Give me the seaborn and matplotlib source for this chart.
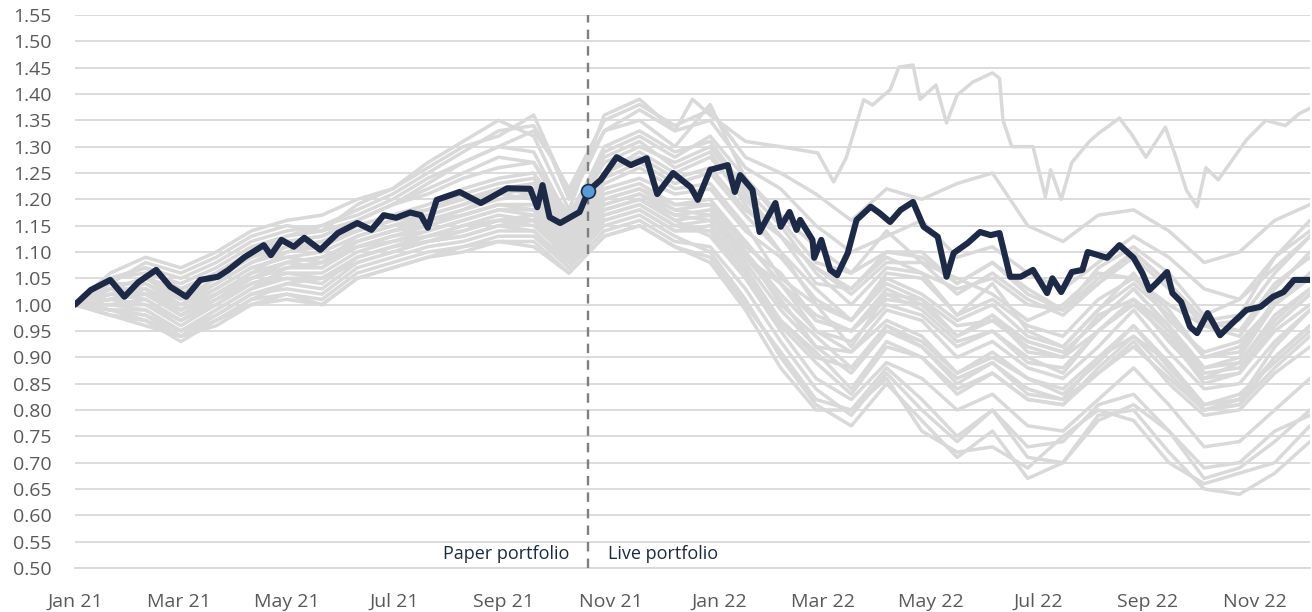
import matplotlib
matplotlib.use('Agg')
import matplotlib.pyplot as plt
import matplotlib.dates as mdates
import seaborn as sns
import pandas as pd

# ---- data ----
start_date = pd.Timestamp('2021-01-01')
live_start_day = 291   # paper -> live switch (about 19 Oct 21)

# main portfolio: day offset from start, value
navy_days = [0, 9, 20, 28, 36, 46, 54, 63, 71, 81, 87, 96, 107, 111, 117, 124, 130, 139, 149, 160,
             168, 175, 182, 190, 196, 200, 205, 218, 230, 245, 258, 262, 265, 269, 275, 286, 291, 298, 307, 315,
             324, 330, 339, 349, 353, 360, 370, 374, 377, 384, 388, 397, 400, 405, 409, 411, 418, 419, 423, 428,
             432, 438, 443, 451, 456, 462, 468, 475, 481, 489, 494, 498, 506, 513, 519, 524, 530, 536, 543, 551,
             554, 559, 565, 571, 574, 585, 592, 600, 605, 609, 613, 619, 622, 627, 632, 636, 642, 649, 656, 664,
             672, 679, 685, 691, 700]
navy_values = [1.000, 1.028, 1.047, 1.015, 1.043, 1.066, 1.034, 1.015, 1.047, 1.053, 1.066, 1.090, 1.113, 1.094, 1.123, 1.110, 1.127, 1.104, 1.136, 1.155,
               1.142, 1.170, 1.165, 1.175, 1.170, 1.146, 1.199, 1.214, 1.193, 1.221, 1.220, 1.185, 1.227, 1.166, 1.155, 1.176, 1.216, 1.237, 1.280, 1.265,
               1.278, 1.210, 1.250, 1.223, 1.199, 1.256, 1.265, 1.214, 1.246, 1.218, 1.138, 1.193, 1.148, 1.176, 1.142, 1.161, 1.123, 1.089, 1.123, 1.066,
               1.056, 1.098, 1.161, 1.186, 1.174, 1.157, 1.180, 1.195, 1.148, 1.129, 1.053, 1.098, 1.117, 1.138, 1.132, 1.136, 1.053, 1.053, 1.066, 1.022,
               1.050, 1.024, 1.062, 1.066, 1.100, 1.089, 1.113, 1.089, 1.060, 1.028, 1.041, 1.062, 1.022, 1.005, 0.958, 0.946, 0.984, 0.942, 0.965, 0.990,
               0.996, 1.015, 1.024, 1.047, 1.047]

# the one peer that breaks away upwards in 2022
outlier_days = [0, 20, 40, 60, 80, 100, 120, 140, 160, 180, 200, 220, 240, 260, 270, 280, 290, 300, 320, 340,
                350, 360, 380, 400, 421, 430, 437, 447, 452, 462, 467, 475, 479, 488, 494, 500, 509, 520, 524, 526,
                531, 543, 550, 553, 559, 565, 575, 580, 592, 599, 607, 618, 624, 630, 636, 641, 648, 656, 664, 675,
                686, 694, 700]
outlier_values = [1.00, 1.03, 1.05, 1.03, 1.06, 1.09, 1.12, 1.13, 1.16, 1.19, 1.23, 1.27, 1.30, 1.33, 1.28, 1.20, 1.26, 1.33, 1.37, 1.33,
                  1.39, 1.36, 1.31, 1.30, 1.288, 1.233, 1.278, 1.389, 1.379, 1.408, 1.451, 1.455, 1.390, 1.417, 1.345, 1.398, 1.423, 1.440, 1.430, 1.350,
                  1.300, 1.300, 1.205, 1.256, 1.200, 1.270, 1.310, 1.325, 1.354, 1.323, 1.280, 1.337, 1.280, 1.217, 1.186, 1.260, 1.237, 1.275, 1.313, 1.350,
                  1.340, 1.363, 1.373]

# other peers, sampled every 20 days
peer_days = [0, 20, 40, 60, 80, 100, 120, 140, 160, 180, 200, 220, 240, 260, 280, 300, 320, 340,
             360, 380, 400, 420, 440, 460, 480, 500, 520, 540, 560, 580, 600, 620, 640, 660, 680, 700]
peer_01 = [1.00, 1.05, 1.07, 1.05, 1.08, 1.12, 1.14, 1.15, 1.18, 1.21, 1.25, 1.29, 1.33, 1.34, 1.22, 1.35, 1.38, 1.34,
           1.37, 1.28, 1.25, 1.21, 1.16, 1.22, 1.20, 1.23, 1.25, 1.15, 1.12, 1.17, 1.18, 1.14, 1.08, 1.10, 1.16, 1.19]
peer_02 = [1.00, 1.04, 1.08, 1.06, 1.09, 1.13, 1.15, 1.14, 1.19, 1.22, 1.27, 1.31, 1.35, 1.32, 1.18, 1.36, 1.39, 1.33,
           1.35, 1.26, 1.22, 1.15, 1.10, 1.13, 1.16, 1.09, 1.11, 1.06, 1.03, 1.08, 1.13, 1.09, 1.03, 1.01, 1.07, 1.13]
peer_03 = [1.00, 1.06, 1.09, 1.07, 1.10, 1.14, 1.16, 1.17, 1.20, 1.22, 1.26, 1.30, 1.32, 1.36, 1.21, 1.33, 1.35, 1.30,
           1.38, 1.24, 1.16, 1.08, 1.06, 1.14, 1.08, 1.05, 1.02, 0.97, 1.00, 1.06, 1.05, 1.00, 0.96, 0.94, 1.03, 1.10]
peer_04 = [1.00, 1.05, 1.06, 1.04, 1.07, 1.11, 1.13, 1.15, 1.17, 1.20, 1.24, 1.27, 1.30, 1.29, 1.16, 1.30, 1.33, 1.29,
           1.31, 1.22, 1.15, 1.06, 1.00, 1.07, 1.06, 0.98, 1.04, 0.95, 0.92, 0.99, 1.06, 0.97, 0.91, 0.93, 1.00, 1.06]
peer_05 = [1.00, 1.03, 1.05, 1.02, 1.06, 1.10, 1.12, 1.13, 1.16, 1.19, 1.22, 1.25, 1.28, 1.27, 1.15, 1.28, 1.31, 1.26,
           1.29, 1.19, 1.10, 1.03, 0.97, 1.04, 1.01, 0.96, 0.97, 0.92, 0.90, 0.95, 1.01, 0.96, 0.87, 0.88, 0.96, 1.02]
peer_06 = [1.00, 1.02, 1.04, 1.00, 1.04, 1.08, 1.10, 1.11, 1.14, 1.16, 1.18, 1.21, 1.23, 1.24, 1.14, 1.25, 1.28, 1.24,
           1.26, 1.18, 1.13, 1.04, 1.03, 1.09, 1.06, 1.03, 1.05, 1.00, 0.99, 1.04, 1.10, 1.04, 0.97, 0.95, 1.04, 1.09]
peer_07 = [1.00, 1.03, 1.03, 0.99, 1.03, 1.07, 1.09, 1.10, 1.13, 1.15, 1.17, 1.19, 1.21, 1.22, 1.13, 1.23, 1.26, 1.22,
           1.23, 1.15, 1.05, 1.00, 0.92, 1.02, 0.99, 0.93, 0.95, 0.90, 0.87, 0.95, 1.01, 0.93, 0.86, 0.87, 0.96, 1.02]
peer_08 = [1.00, 1.01, 1.02, 0.98, 1.02, 1.06, 1.08, 1.09, 1.12, 1.14, 1.16, 1.18, 1.20, 1.21, 1.12, 1.22, 1.24, 1.21,
           1.22, 1.14, 1.09, 1.01, 0.97, 1.06, 1.05, 0.98, 1.01, 0.96, 0.94, 1.01, 1.05, 0.99, 0.90, 0.91, 1.01, 1.05]
peer_09 = [1.00, 1.02, 1.01, 0.97, 1.01, 1.05, 1.07, 1.07, 1.11, 1.13, 1.15, 1.17, 1.19, 1.19, 1.11, 1.20, 1.22, 1.19,
           1.20, 1.12, 1.04, 0.95, 0.91, 0.99, 0.97, 0.90, 0.93, 0.88, 0.86, 0.92, 0.99, 0.91, 0.84, 0.85, 0.93, 0.99]
peer_10 = [1.00, 1.00, 1.00, 0.96, 1.00, 1.04, 1.06, 1.06, 1.10, 1.12, 1.14, 1.16, 1.18, 1.18, 1.10, 1.19, 1.21, 1.17,
           1.18, 1.10, 1.00, 0.94, 0.88, 0.96, 0.93, 0.87, 0.90, 0.86, 0.83, 0.89, 0.96, 0.88, 0.81, 0.83, 0.89, 0.95]
peer_11 = [1.00, 0.99, 0.99, 0.95, 0.99, 1.03, 1.05, 1.05, 1.09, 1.11, 1.13, 1.15, 1.16, 1.17, 1.09, 1.17, 1.19, 1.15,
           1.16, 1.09, 1.04, 0.97, 0.95, 1.02, 1.01, 0.94, 0.97, 0.93, 0.91, 0.97, 1.03, 0.96, 0.88, 0.89, 0.98, 1.03]
peer_12 = [1.00, 0.99, 0.98, 0.94, 0.98, 1.02, 1.04, 1.03, 1.08, 1.10, 1.12, 1.13, 1.15, 1.16, 1.08, 1.16, 1.18, 1.14,
           1.15, 1.07, 0.97, 0.91, 0.84, 0.93, 0.90, 0.84, 0.87, 0.82, 0.81, 0.87, 0.93, 0.85, 0.79, 0.80, 0.87, 0.92]
peer_13 = [1.00, 1.01, 1.00, 0.97, 1.01, 1.04, 1.06, 1.05, 1.09, 1.11, 1.12, 1.14, 1.16, 1.15, 1.09, 1.18, 1.20, 1.16,
           1.13, 1.05, 0.95, 0.86, 0.82, 0.89, 0.86, 0.80, 0.83, 0.77, 0.76, 0.82, 0.88, 0.81, 0.73, 0.74, 0.80, 0.86]
peer_14 = [1.00, 0.98, 0.97, 0.93, 0.97, 1.01, 1.02, 1.01, 1.06, 1.08, 1.10, 1.11, 1.13, 1.13, 1.07, 1.14, 1.16, 1.12,
           1.11, 1.03, 0.93, 0.84, 0.79, 0.87, 0.80, 0.74, 0.80, 0.71, 0.70, 0.78, 0.81, 0.76, 0.67, 0.69, 0.74, 0.80]
peer_15 = [1.00, 0.99, 0.98, 0.95, 0.98, 1.02, 1.03, 1.02, 1.07, 1.09, 1.11, 1.12, 1.14, 1.14, 1.08, 1.15, 1.17, 1.13,
           1.10, 1.01, 0.90, 0.81, 0.77, 0.85, 0.78, 0.71, 0.76, 0.67, 0.70, 0.79, 0.80, 0.72, 0.65, 0.64, 0.68, 0.74]
peer_16 = [1.00, 1.03, 1.02, 0.99, 1.02, 1.05, 1.07, 1.08, 1.11, 1.12, 1.13, 1.15, 1.17, 1.16, 1.10, 1.18, 1.20, 1.17,
           1.16, 1.08, 0.99, 0.92, 0.87, 0.95, 0.92, 0.86, 0.89, 0.84, 0.82, 0.87, 0.92, 0.86, 0.80, 0.81, 0.88, 0.94]
peer_17 = [1.00, 1.04, 1.04, 1.01, 1.05, 1.09, 1.11, 1.11, 1.15, 1.17, 1.19, 1.22, 1.24, 1.25, 1.15, 1.27, 1.30, 1.27,
           1.30, 1.21, 1.13, 1.07, 1.02, 1.08, 1.08, 1.02, 1.06, 1.01, 0.98, 1.04, 1.09, 1.03, 0.96, 0.97, 1.06, 1.13]
peer_18 = [1.00, 1.02, 1.03, 1.00, 1.03, 1.07, 1.09, 1.08, 1.13, 1.15, 1.16, 1.18, 1.21, 1.20, 1.12, 1.21, 1.23, 1.19,
           1.19, 1.11, 1.06, 0.97, 0.95, 1.01, 1.00, 0.94, 0.98, 0.93, 0.91, 0.97, 1.03, 0.96, 0.88, 0.90, 1.00, 1.06]
peer_19 = [1.00, 1.00, 1.01, 0.97, 1.00, 1.04, 1.05, 1.04, 1.09, 1.11, 1.13, 1.14, 1.16, 1.16, 1.09, 1.17, 1.19, 1.15,
           1.14, 1.06, 0.96, 0.89, 0.83, 0.92, 0.90, 0.83, 0.87, 0.82, 0.81, 0.88, 0.94, 0.87, 0.80, 0.81, 0.90, 0.96]
peer_20 = [1.00, 1.05, 1.07, 1.03, 1.06, 1.10, 1.13, 1.14, 1.16, 1.19, 1.21, 1.24, 1.26, 1.27, 1.17, 1.29, 1.32, 1.28,
           1.32, 1.24, 1.17, 1.11, 1.06, 1.10, 1.10, 1.04, 1.08, 1.03, 0.99, 1.05, 1.10, 1.04, 0.97, 0.98, 1.09, 1.16]
peer_21 = [1.00, 0.98, 0.96, 0.94, 0.97, 1.00, 1.01, 1.00, 1.05, 1.07, 1.09, 1.10, 1.12, 1.12, 1.06, 1.13, 1.15, 1.11,
           1.08, 0.99, 0.88, 0.80, 0.80, 0.86, 0.76, 0.72, 0.73, 0.69, 0.75, 0.80, 0.78, 0.70, 0.66, 0.68, 0.70, 0.77]
peer_22 = [1.00, 1.01, 1.03, 0.98, 1.02, 1.06, 1.08, 1.07, 1.12, 1.14, 1.15, 1.17, 1.19, 1.18, 1.11, 1.19, 1.21, 1.18,
           1.17, 1.09, 1.01, 0.92, 0.91, 0.97, 0.94, 0.87, 0.91, 0.86, 0.84, 0.90, 0.96, 0.89, 0.81, 0.82, 0.92, 0.99]
peer_23 = [1.00, 1.02, 1.03, 0.99, 1.02, 1.06, 1.10, 1.12, 1.15, 1.17, 1.18, 1.20, 1.22, 1.21, 1.13, 1.24, 1.27, 1.23,
           1.25, 1.17, 1.10, 1.00, 0.97, 1.05, 1.02, 0.97, 1.00, 0.94, 0.92, 0.99, 1.04, 0.98, 0.90, 0.92, 1.00, 1.05]
peer_24 = [1.00, 1.00, 0.99, 0.95, 0.99, 1.03, 1.07, 1.08, 1.11, 1.13, 1.14, 1.16, 1.18, 1.17, 1.10, 1.18, 1.20, 1.16,
           1.17, 1.10, 1.02, 0.95, 0.93, 1.00, 0.98, 0.92, 0.95, 0.89, 0.88, 0.95, 1.00, 0.94, 0.85, 0.87, 0.95, 1.00]
peer_25 = [1.00, 1.03, 1.05, 1.01, 1.04, 1.08, 1.11, 1.12, 1.14, 1.16, 1.17, 1.19, 1.22, 1.23, 1.14, 1.25, 1.29, 1.25,
           1.28, 1.20, 1.13, 1.07, 1.03, 1.10, 1.09, 1.04, 1.08, 1.02, 0.99, 1.07, 1.11, 1.06, 0.98, 1.01, 1.09, 1.14]
peer_26 = [1.00, 0.99, 0.97, 0.94, 0.97, 1.01, 1.04, 1.05, 1.08, 1.10, 1.12, 1.13, 1.15, 1.14, 1.07, 1.16, 1.18, 1.14,
           1.14, 1.06, 0.97, 0.90, 0.88, 0.96, 0.92, 0.85, 0.89, 0.83, 0.82, 0.90, 0.94, 0.89, 0.80, 0.82, 0.90, 0.96]
peer_27 = [1.00, 1.01, 1.02, 0.98, 1.01, 1.05, 1.08, 1.09, 1.12, 1.14, 1.16, 1.17, 1.19, 1.19, 1.11, 1.20, 1.22, 1.18,
           1.19, 1.12, 1.04, 0.98, 0.95, 1.03, 1.00, 0.94, 0.98, 0.91, 0.90, 0.98, 1.01, 0.95, 0.86, 0.89, 0.97, 1.03]
peer_28 = [1.00, 0.98, 0.97, 0.94, 0.96, 1.00, 1.02, 1.00, 1.05, 1.07, 1.09, 1.11, 1.12, 1.11, 1.06, 1.13, 1.15, 1.11,
           1.09, 1.00, 0.91, 0.82, 0.80, 0.88, 0.82, 0.75, 0.80, 0.73, 0.74, 0.81, 0.83, 0.76, 0.69, 0.70, 0.76, 0.79]

y_ticks = [0.50, 0.55, 0.60, 0.65, 0.70, 0.75, 0.80, 0.85, 0.90, 0.95, 1.00, 1.05,
           1.10, 1.15, 1.20, 1.25, 1.30, 1.35, 1.40, 1.45, 1.50, 1.55]

# ---- build long-form frame for the peers ----
peers = [peer_01, peer_02, peer_03, peer_04, peer_05, peer_06, peer_07, peer_08, peer_09, peer_10,
         peer_11, peer_12, peer_13, peer_14, peer_15, peer_16, peer_17, peer_18, peer_19, peer_20,
         peer_21, peer_22, peer_23, peer_24, peer_25, peer_26, peer_27, peer_28]
frames = []
for i, vals in enumerate(peers):
    frames.append(pd.DataFrame({'day': peer_days, 'value': vals, 'line': i}))
frames.append(pd.DataFrame({'day': outlier_days, 'value': outlier_values, 'line': len(peers)}))
peer_df = pd.concat(frames, ignore_index=True)
peer_df['date'] = start_date + pd.to_timedelta(peer_df['day'], unit='D')

navy_df = pd.DataFrame({'date': start_date + pd.to_timedelta(navy_days, unit='D'), 'value': navy_values})
live_date = start_date + pd.Timedelta(days=live_start_day)
live_value = navy_values[navy_days.index(live_start_day)]

# ---- plot ----
sns.set_style('white')
plt.rcParams['font.family'] = ['Open Sans', 'DejaVu Sans']

fig = plt.figure(figsize=(13.12, 6.12), dpi=100)
ax = fig.add_axes([75 / 1312, 1 - 568 / 612, 1235 / 1312, 553 / 612])

sns.lineplot(data=peer_df, x='date', y='value', units='line', estimator=None,
             color='#d9d9d9', linewidth=2.5, ax=ax, zorder=2)
sns.lineplot(data=navy_df, x='date', y='value', color='#1c2a47', linewidth=4.4, ax=ax, zorder=4)
ax.axvline(live_date, color='#7f7f7f', linestyle=(0, (4, 3)), linewidth=1.7, zorder=3)
ax.plot([live_date], [live_value], marker='o', markersize=10, markerfacecolor='#5b9bd5',
        markeredgecolor='#1c2a47', markeredgewidth=1.2, zorder=5)

ax.text(live_date - pd.Timedelta(days=11), 0.517, 'Paper portfolio', ha='right', va='baseline',
        fontsize=13, color='#1c2a47')
ax.text(live_date + pd.Timedelta(days=11), 0.517, 'Live portfolio', ha='left', va='baseline',
        fontsize=13, color='#1c2a47')

# axes styling
ax.set_xlim(start_date, start_date + pd.Timedelta(days=700))
ax.set_ylim(0.50, 1.55)
ax.set_yticks(y_ticks)
ax.set_yticklabels([f'{t:.2f}' for t in y_ticks])
ax.set_xticks(pd.date_range('2021-01-01', '2022-11-01', freq='2MS'))
ax.xaxis.set_major_formatter(mdates.DateFormatter('%b %y'))
ax.grid(axis='y', color='#d9d9d9', linewidth=1.3)
ax.set_axisbelow(True)
for side in ['top', 'right', 'left']:
    ax.spines[side].set_visible(False)
ax.spines['bottom'].set_color('#d9d9d9')
ax.spines['bottom'].set_linewidth(1.3)
ax.tick_params(axis='y', length=0, pad=17, labelsize=14, labelcolor='#595959')
ax.tick_params(axis='x', length=6, width=1.3, color='#d9d9d9', pad=12, labelsize=14, labelcolor='#595959')
ax.set_xlabel('')
ax.set_ylabel('')

plt.savefig('out.png', dpi=100)
